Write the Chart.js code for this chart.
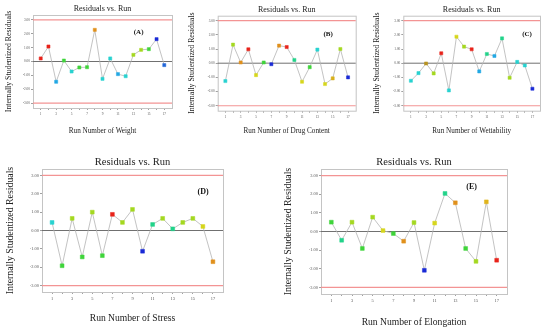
<!DOCTYPE html>
<html>
<head>
<meta charset="utf-8">
<script src="https://cdn.jsdelivr.net/npm/chart.js@4.4.0/dist/chart.umd.min.js"></script>
<style>
  body { margin: 0; background: #fff; }
  #wrap { position: relative; width: 550px; height: 331px; overflow: hidden; background: #fff; }
  #wrap canvas { position: absolute; }
</style>
</head>
<body>
<div id="wrap">
  <canvas id="cA" width="182" height="140" style="left:0;top:0"></canvas>
  <canvas id="cB" width="182" height="140" style="left:182px;top:0"></canvas>
  <canvas id="cC" width="185" height="140" style="left:365px;top:0"></canvas>
  <canvas id="cD" width="275" height="191" style="left:0;top:140px"></canvas>
  <canvas id="cE" width="275" height="191" style="left:275px;top:140px"></canvas>
</div>
<script>
// shared axes
const runs = [1, 2, 3, 4, 5, 6, 7, 8, 9, 10, 11, 12, 13, 14, 15, 16, 17];
const runTicks = [1, 3, 5, 7, 9, 11, 13, 15, 17];
const residualTicks = [-3, -2, -1, 0, 1, 2, 3];
const residualTickLabels = ['-3.00', '-2.00', '-1.00', '0.00', '1.00', '2.00', '3.00'];
const limits = [3, -3];

// point colours
const RED = '#e8231a';
const ORANGE = '#e0901c';
const OLIVE = '#b89422';
const YELLOW = '#d6d61c';
const YGREEN = '#a4d820';
const GREEN = '#3fd43a';
const TGREEN = '#22d38a';
const CYAN = '#28d2d0';
const LBLUE = '#22a8e4';
const BLUE = '#1a2ad6';

// (A) weight
const weightResiduals = [0.22, 1.08, -1.46, 0.07, -0.72, -0.43, -0.41, 2.28, -1.25, 0.22, -0.91, -1.06, 0.48, 0.84, 0.89, 1.61, -0.26];
const weightColors = [RED, RED, LBLUE, GREEN, CYAN, GREEN, GREEN, ORANGE, CYAN, CYAN, LBLUE, CYAN, YGREEN, YGREEN, GREEN, BLUE, '#2266d8'];

// (B) drug content
const drugResiduals = [-1.26, 1.31, 0.05, 0.98, -0.84, 0.05, -0.07, 1.24, 1.14, 0.23, -1.31, -0.28, 0.96, -1.47, -1.07, 1.0, -1.0];
const drugColors = [CYAN, YGREEN, ORANGE, RED, YELLOW, GREEN, BLUE, ORANGE, RED, TGREEN, YELLOW, GREEN, CYAN, YELLOW, '#d8b01c', YGREEN, BLUE];

// (C) wettability
const wetResiduals = [-1.24, -0.7, -0.02, -0.72, 0.7, -1.92, 1.87, 1.17, 0.98, -0.58, 0.65, 0.51, 1.75, -1.03, 0.09, -0.16, -1.8];
const wetColors = [CYAN, CYAN, OLIVE, YGREEN, RED, CYAN, YELLOW, YGREEN, RED, LBLUE, TGREEN, LBLUE, TGREEN, YGREEN, CYAN, CYAN, BLUE];

// (D) stress
const stressResiduals = [0.44, -1.92, 0.66, -1.44, 1.0, -1.37, 0.88, 0.44, 1.15, -1.13, 0.33, 0.66, 0.09, 0.44, 0.66, 0.22, -1.7];
const stressColors = [CYAN, GREEN, YGREEN, GREEN, YGREEN, GREEN, RED, YGREEN, YGREEN, BLUE, TGREEN, YGREEN, TGREEN, YGREEN, YGREEN, YELLOW, ORANGE];

// (E) elongation
const elongResiduals = [0.5, -0.47, 0.5, -0.91, 0.77, 0.05, -0.11, -0.52, 0.48, -2.08, 0.45, 2.04, 1.54, -0.91, -1.6, 1.59, -1.54];
const elongColors = [GREEN, TGREEN, YGREEN, GREEN, YGREEN, YELLOW, GREEN, ORANGE, YGREEN, BLUE, YELLOW, TGREEN, ORANGE, GREEN, YGREEN, '#e0b41c', RED];

const FONT = "'Liberation Serif', 'Times New Roman', serif";

// reference lines, plot frame and the (X) tag
const residualDecor = {
  id: 'residualDecor',
  beforeDatasetsDraw(chart, args, opts) {
    const { ctx, chartArea: a, scales } = chart;
    ctx.save();
    ctx.strokeStyle = '#c4c4c4';
    ctx.lineWidth = 1;
    ctx.strokeRect(a.left + 0.5, a.top + 0.5, a.width, a.height);

    ctx.strokeStyle = '#f39494';
    ctx.lineWidth = 1.2;
    for (const v of limits) {
      const y = scales.y.getPixelForValue(v);
      ctx.beginPath();
      ctx.moveTo(a.left, y);
      ctx.lineTo(a.right, y);
      ctx.stroke();
    }
    ctx.strokeStyle = '#707070';
    ctx.lineWidth = 1;
    const y0 = scales.y.getPixelForValue(0);
    ctx.beginPath();
    ctx.moveTo(a.left, y0);
    ctx.lineTo(a.right, y0);
    ctx.stroke();

    ctx.fillStyle = '#111';
    ctx.font = `bold ${opts.tagSize}px ${FONT}`;
    ctx.textAlign = 'center';
    ctx.textBaseline = 'middle';
    ctx.fillText(opts.tag, a.left + a.width * opts.tagX, a.top + a.height * opts.tagY);
    ctx.restore();
  },
};

function residualPlot(id, cfg) {
  const canvas = document.getElementById(id);
  const W = canvas.width;
  const H = canvas.height;
  const [left, top, right, bottom] = cfg.area;
  const titleLh = cfg.titleSize * 1.2;
  const labelLh = cfg.labelSize * 1.2;

  return new Chart(canvas, {
    type: 'line',
    data: {
      datasets: [
        {
          data: runs.map((r, i) => ({ x: r, y: cfg.values[i] })),
          borderColor: '#b4b4b4',
          borderWidth: 0.8,
          pointStyle: 'rect',
          pointRadius: cfg.pointRadius,
          pointBackgroundColor: cfg.colors,
          pointBorderColor: cfg.colors,
          pointBorderWidth: 0.5,
          tension: 0,
        },
      ],
    },
    options: {
      responsive: false,
      animation: false,
      events: [],
      layout: {
        padding: { left: 0, top: cfg.titleY - titleLh / 2, right: W - right, bottom: 0 },
      },
      plugins: {
        legend: { display: false },
        tooltip: { enabled: false },
        title: {
          display: true,
          fullSize: false,
          text: 'Residuals vs. Run',
          color: '#222',
          font: { family: FONT, size: cfg.titleSize, weight: 'normal' },
          padding: { top: 0, bottom: top - cfg.titleY - titleLh / 2 },
        },
        residualDecor: { tag: cfg.tag, tagX: cfg.tagX, tagY: cfg.tagY, tagSize: cfg.tagSize },
      },
      scales: {
        x: {
          type: 'linear',
          min: 0,
          max: 18,
          afterBuildTicks: (s) => {
            s.ticks = runs.map((v) => ({ value: v }));
          },
          afterFit: (s) => {
            s.height = H - bottom;
          },
          border: { display: false },
          grid: { drawOnChartArea: false, tickLength: 2, color: '#a0a0a0' },
          ticks: {
            autoSkip: false,
            maxRotation: 0,
            padding: 2,
            color: '#555',
            font: { family: FONT, size: cfg.tickSize },
            callback: (v) => (runTicks.includes(v) ? String(v) : ''),
          },
          title: {
            display: true,
            text: cfg.xTitle,
            color: '#222',
            font: { family: FONT, size: cfg.labelSize },
            padding: { top: 0, bottom: H - cfg.xTitleY - labelLh / 2 },
          },
        },
        y: {
          min: -3.35,
          max: 3.35,
          afterBuildTicks: (s) => {
            s.ticks = residualTicks.map((v) => ({ value: v }));
          },
          afterFit: (s) => {
            s.width = left;
          },
          border: { display: false },
          grid: { drawOnChartArea: false, tickLength: 2, color: '#a0a0a0' },
          ticks: {
            padding: 1,
            color: '#555',
            font: { family: FONT, size: cfg.tickSize },
            callback: (v) => residualTickLabels[residualTicks.indexOf(v)],
          },
          title: {
            display: true,
            text: 'Internally Studentized Residuals',
            color: '#222',
            font: { family: FONT, size: cfg.yLabelSize },
            padding: { top: cfg.yTitleX - (cfg.yLabelSize * 1.2) / 2, bottom: 0 },
          },
        },
      },
    },
    plugins: [residualDecor],
  });
}

const small = { titleSize: 8, labelSize: 7.2, yLabelSize: 7.8, tickSize: 3.4, tagSize: 7, pointRadius: 2.2 };
const big = { titleSize: 10.5, labelSize: 9.6, yLabelSize: 9.8, tickSize: 4.4, tagSize: 8, pointRadius: 2.7 };

residualPlot('cA', {
  ...small, values: weightResiduals, colors: weightColors, xTitle: 'Run Number of Weight', tag: '(A)',
  area: [33, 15, 172, 108], titleY: 9.3, xTitleY: 130.7, yTitleX: 8.8, tagX: 0.76, tagY: 0.18,
});
residualPlot('cB', {
  ...small, values: drugResiduals, colors: drugColors, xTitle: 'Run Number of Drug Content', tag: '(B)',
  area: [35.7, 15.7, 173.7, 110.7], titleY: 10, xTitleY: 131.3, yTitleX: 9.7, tagX: 0.8, tagY: 0.19,
});
residualPlot('cC', {
  ...small, values: wetResiduals, colors: wetColors, xTitle: 'Run Number of Wettability', tag: '(C)',
  area: [38.3, 15.7, 175, 110.7], titleY: 10, xTitleY: 131.3, yTitleX: 11.7, tagX: 0.905, tagY: 0.19,
});
residualPlot('cD', {
  ...big, values: stressResiduals, colors: stressColors, xTitle: 'Run Number of Stress', tag: '(D)',
  area: [42, 29, 223, 152], titleY: 22.7, xTitleY: 178, yTitleX: 10, tagX: 0.89, tagY: 0.19,
});
residualPlot('cE', {
  ...big, values: elongResiduals, colors: elongColors, xTitle: 'Run Number of Elongation', tag: '(E)',
  area: [46, 29, 232, 154], titleY: 22.7, xTitleY: 182.7, yTitleX: 13.3, tagX: 0.81, tagY: 0.14,
});
</script>
</body>
</html>
